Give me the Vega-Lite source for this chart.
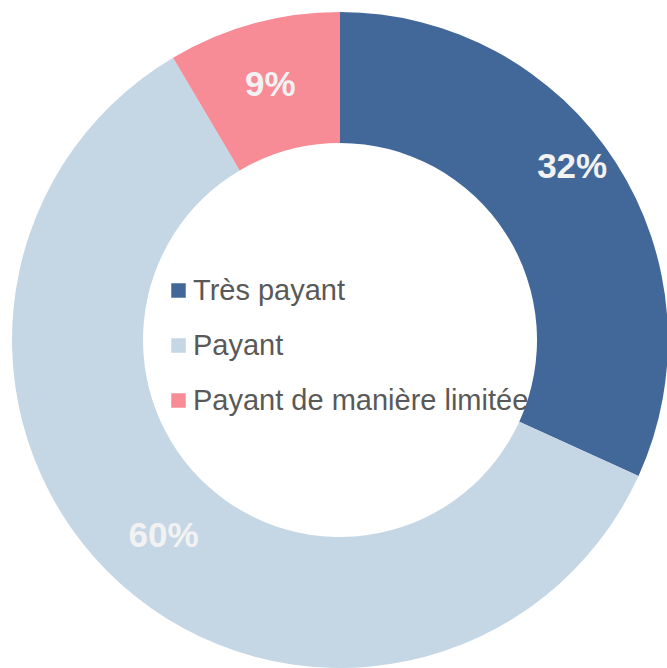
{
  "$schema": "https://vega.github.io/schema/vega-lite/v6.json",
  "width": 667,
  "height": 668,
  "autosize": "none",
  "padding": 0,
  "background": "white",
  "config": {"view": {"stroke": null}},
  "data": {
    "values": [
      {"category": "Très payant", "value": 31.8, "label": "32%", "rank": 1},
      {"category": "Payant", "value": 59.7, "label": "60%", "rank": 2},
      {"category": "Payant de manière limitée", "value": 8.5, "label": "9%", "rank": 3}
    ]
  },
  "encoding": {
    "theta": {"field": "value", "type": "quantitative", "stack": true},
    "order": {"field": "rank", "type": "quantitative"}
  },
  "layer": [
    {
      "mark": {"type": "arc", "x": 340, "y": 340, "outerRadius": 328, "innerRadius": 197},
      "encoding": {
        "color": {
          "field": "category",
          "type": "nominal",
          "scale": {
            "domain": ["Très payant", "Payant", "Payant de manière limitée"],
            "range": ["#426899", "#c5d7e5", "#f78b96"]
          },
          "legend": {
            "orient": "none",
            "legendX": 164,
            "legendY": 276,
            "title": null,
            "labelFontSize": 29,
            "labelFont": "Liberation Sans",
            "labelColor": "#595959",
            "labelLimit": 500,
            "symbolType": "square",
            "symbolSize": 210,
            "symbolStrokeWidth": 0,
            "rowPadding": 25,
            "labelOffset": 0,
            "padding": 0
          }
        }
      }
    },
    {
      "mark": {"type": "text", "x": 340, "y": 340, "radius": 263, "dx": 11, "dy": -31, "font": "Liberation Sans", "fontWeight": "bold", "fontSize": 35, "fill": "#f2f2f2", "align": "center", "baseline": "middle"},
      "encoding": {
        "text": {"condition": {"test": "datum.rank == 1", "field": "label"}, "value": ""}
      }
    },
    {
      "mark": {"type": "text", "x": 340, "y": 340, "radius": 264, "font": "Liberation Sans", "fontWeight": "bold", "fontSize": 35, "fill": "#f2f2f2", "align": "center", "baseline": "middle"},
      "encoding": {
        "text": {"condition": {"test": "datum.rank != 1", "field": "label"}, "value": ""}
      }
    }
  ]
}
